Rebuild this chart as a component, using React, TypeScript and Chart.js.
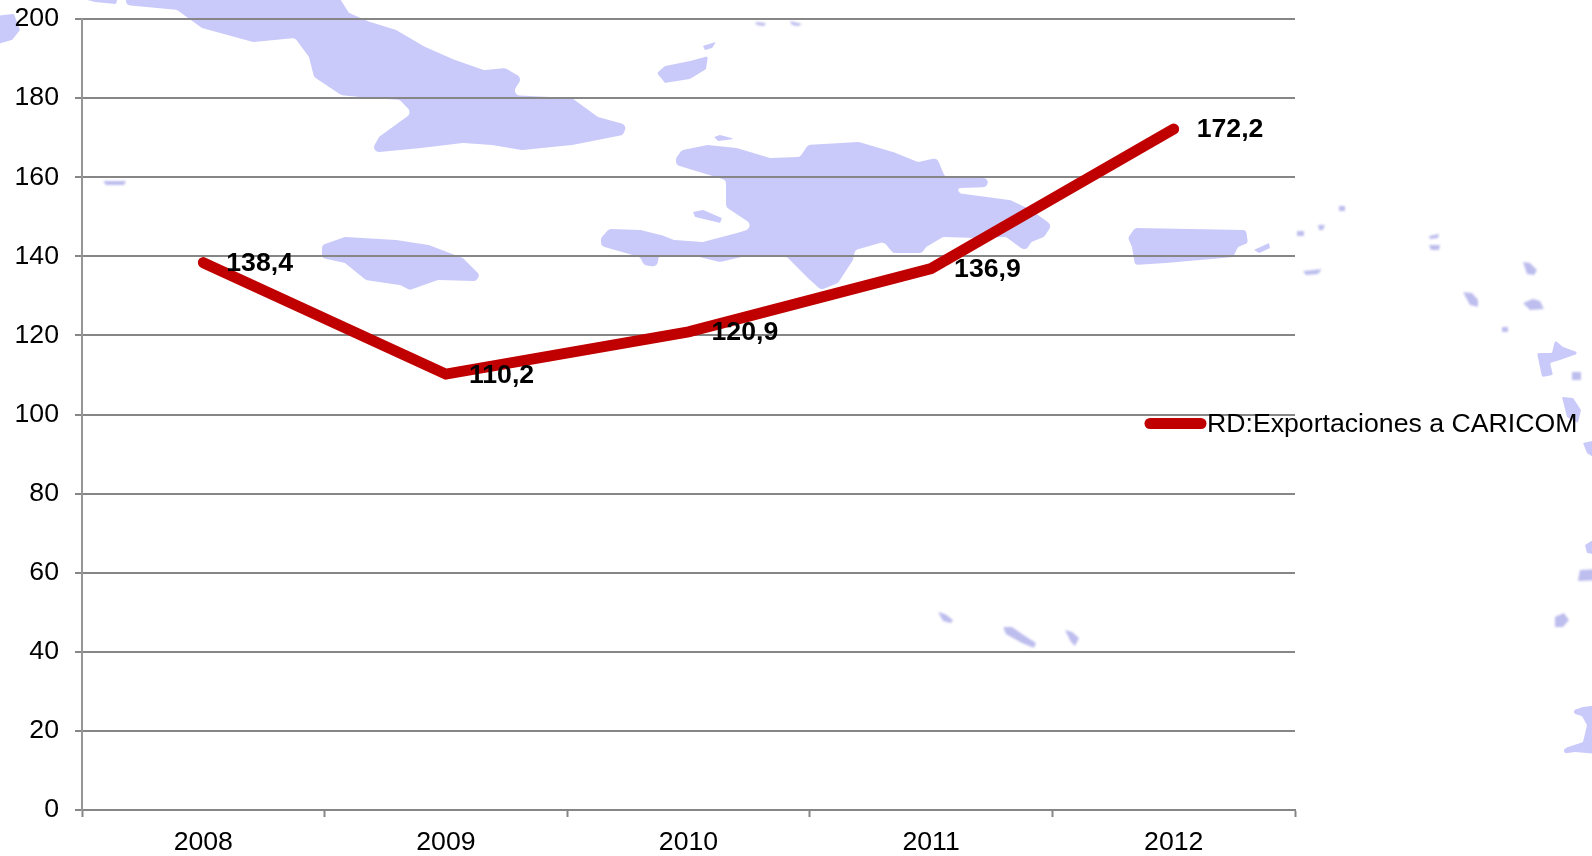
import React, { useEffect, useRef } from "react";
import { Chart, registerables } from "chart.js";

Chart.register(...registerables);

const years = ["2008", "2009", "2010", "2011", "2012"];
const exportValues = [138.4, 110.2, 120.9, 136.9, 172.2];
const seriesName = "RD:Exportaciones a CARICOM";
const yTicks = [0, 20, 40, 60, 80, 100, 120, 140, 160, 180, 200];

const RED = "#C00000";
const GRID = "#868686";
const AXIS = "#969696";
const FONT = "'Liberation Sans', Arial, sans-serif";
const TEXT_SIZE = 26.67;

// Background map of the Caribbean (decoration only, behind the chart)
const mapLand: number[][] = [
  [126,-6,337,-6,349,13,370,22,396,30,425,47,455,60,484,70,505,68,522,78,511,95,572,98,598,117,627,125,623,135,572,145,522,150,492,145,463,143,421,148,370,153,379,137,412,113,400,100,370,98,341,95,314,77,309,57,295,38,253,42,202,28,177,10,126,5],
  [76,-3,118,-3,116,4,95,2],
  [-6,16,14,14,20,30,12,40,-6,45],
  [322,245,345,237,396,240,429,245,463,258,480,275,476,281,438,280,410,290,400,285,366,280,345,263,322,258],
  [657,73,665,66,690,61,708,56,706,69,690,79,665,83],
  [703,46,716,42,712,48,705,50],
  [676,158,682,150,707,145,737,148,770,158,800,157,808,145,859,142,893,152,918,162,937,158,945,177,987,178,989,187,958,188,956,193,1010,200,1031,210,1052,225,1044,237,1029,243,1033,257,1021,248,1006,237,977,238,943,237,926,247,922,253,893,253,884,242,855,250,853,260,838,283,821,290,810,280,787,257,741,257,720,262,699,257,659,255,657,267,644,265,640,257,615,250,601,246,601,238,609,229,640,230,661,235,674,240,703,242,737,233,756,227,726,207,726,180,676,165],
  [693,212,703,210,722,218,720,223,695,217],
  [714,137,720,135,735,139,718,141],
  [1128,238,1135,228,1246,230,1248,243,1238,247,1233,257,1166,263,1135,265,1132,247],
  [1254,250,1269,243,1270,248,1259,253],
  [1555,340,1563,347,1580,353,1560,360,1550,363,1553,375,1542,377,1537,353,1552,353],
  [1562,397,1573,398,1581,410,1578,423,1567,417],
  [1583,443,1598,440,1598,460,1587,453],
  [1585,545,1598,537,1598,555,1587,553],
  [1553,755,1568,747,1583,742,1587,725,1582,716,1568,712,1583,707,1598,705,1598,754,1575,752],
];

const mapIslets: number[][] = [
  [103,181,126,181,124,185,106,185],
  [755,22,766,23,764,26,757,25],
  [790,21,802,24,798,26,792,25],
  [938,612,945,614,953,620,951,623,943,621],
  [1003,627,1012,627,1025,636,1036,643,1034,648,1022,643,1006,634],
  [1065,630,1072,632,1079,638,1075,646,1071,642],
  [1339,206,1345,206,1345,211,1339,211],
  [1318,225,1325,225,1323,230,1319,230],
  [1297,231,1304,231,1304,236,1297,236],
  [1303,271,1322,269,1318,274,1306,275],
  [1429,236,1439,234,1438,238,1430,239],
  [1429,245,1440,245,1439,250,1431,250],
  [1523,262,1530,263,1537,270,1534,275,1527,274],
  [1463,292,1472,293,1478,300,1478,307,1470,305],
  [1523,303,1533,299,1540,301,1544,309,1530,310],
  [1502,327,1508,327,1508,332,1502,332],
  [1572,372,1581,372,1581,380,1572,380],
  [1580,570,1598,569,1598,580,1578,581],
  [1555,617,1564,613,1569,620,1563,627,1555,627],
];

// Fill each outline with corners rounded in proportion to its size
function fillPolys(ctx: CanvasRenderingContext2D, polys: number[][]) {
  for (const p of polys) {
    const n = p.length / 2;
    const px = (i: number) => p[((i + n) % n) * 2];
    const py = (i: number) => p[((i + n) % n) * 2 + 1];
    let perimeter = 0;
    for (let i = 0; i < n; i++) perimeter += Math.hypot(px(i + 1) - px(i), py(i + 1) - py(i));
    const radius = Math.min(5, perimeter / 80);
    ctx.beginPath();
    ctx.moveTo((px(0) + px(n - 1)) / 2, (py(0) + py(n - 1)) / 2);
    for (let i = 0; i < n; i++) {
      ctx.arcTo(px(i), py(i), (px(i) + px(i + 1)) / 2, (py(i) + py(i + 1)) / 2, radius);
    }
    ctx.closePath();
    ctx.fill();
  }
}

const mapPlugin = {
  id: "caribbeanMap",
  beforeDraw(chart: any) {
    const { ctx } = chart;
    ctx.save();
    ctx.fillStyle = "#ffffff";
    ctx.fillRect(0, 0, chart.width, chart.height);
    ctx.filter = "blur(0.7px)";
    ctx.fillStyle = "#CACAFA";
    fillPolys(ctx, mapLand);
    ctx.filter = "blur(1px)";
    ctx.fillStyle = "#BDBDEE";
    fillPolys(ctx, mapIslets);
    ctx.restore();
  },
};

const dataLabelPlugin = {
  id: "pointValues",
  afterDatasetsDraw(chart: any) {
    const { ctx } = chart;
    const meta = chart.getDatasetMeta(0);
    ctx.save();
    ctx.font = `bold ${TEXT_SIZE}px ${FONT}`;
    ctx.fillStyle = "#000000";
    ctx.textAlign = "left";
    ctx.textBaseline = "middle";
    meta.data.forEach((pt: any, i: number) => {
      const text = exportValues[i].toFixed(1).replace(".", ",");
      ctx.fillText(text, pt.x + 23, pt.y + 1);
    });
    ctx.restore();
  },
};

const legendPlugin = {
  id: "overlayLegend",
  afterDraw(chart: any) {
    const { ctx } = chart;
    const ds = chart.data.datasets[0];
    ctx.save();
    ctx.strokeStyle = ds.borderColor;
    ctx.lineWidth = 11;
    ctx.lineCap = "round";
    ctx.beginPath();
    ctx.moveTo(1150, 423.5);
    ctx.lineTo(1201, 423.5);
    ctx.stroke();
    ctx.font = `${TEXT_SIZE}px ${FONT}`;
    ctx.fillStyle = "#000000";
    ctx.textAlign = "left";
    ctx.textBaseline = "middle";
    ctx.fillText(ds.label, 1207, 425);
    ctx.restore();
  },
};

export default function App() {
  const ref = useRef<HTMLCanvasElement>(null);

  useEffect(() => {
    if (!ref.current) return;
    const chart = new Chart(ref.current, {
      type: "line",
      data: {
        labels: years,
        datasets: [
          {
            label: seriesName,
            data: exportValues,
            borderColor: RED,
            backgroundColor: RED,
            borderWidth: 11,
            borderCapStyle: "round",
            borderJoinStyle: "miter",
            pointRadius: 0,
            tension: 0,
            fill: false,
          },
        ],
      },
      options: {
        responsive: false,
        animation: false,
        layout: { padding: { left: 0, top: 19, right: 297, bottom: 0 } },
        plugins: {
          legend: { display: false },
          tooltip: { enabled: false },
        },
        scales: {
          x: {
            type: "category",
            offset: true,
            afterFit(scale: any) {
              scale.height = 46;
              scale.paddingLeft = 0;
              scale.paddingRight = 0;
            },
            grid: {
              offset: true,
              drawOnChartArea: false,
              drawTicks: true,
              tickLength: 7,
              tickColor: GRID,
              tickWidth: 2,
            },
            border: { color: GRID, width: 2 },
            ticks: {
              color: "#000000",
              padding: 10,
              maxRotation: 0,
              font: { family: FONT, size: TEXT_SIZE },
            },
          },
          y: {
            min: 0,
            max: 200,
            afterFit(scale: any) {
              scale.width = 82;
              scale.paddingTop = 0;
              scale.paddingBottom = 0;
            },
            afterBuildTicks(scale: any) {
              scale.ticks = yTicks.map((value) => ({ value }));
            },
            grid: {
              color: GRID,
              lineWidth: 2,
              tickLength: 7,
              tickColor: GRID,
              tickWidth: 2,
            },
            border: { color: AXIS, width: 2 },
            ticks: {
              color: "#000000",
              padding: 16,
              font: { family: FONT, size: TEXT_SIZE },
            },
          },
        },
      } as any,
      plugins: [mapPlugin, dataLabelPlugin, legendPlugin],
    });
    return () => chart.destroy();
  }, []);

  return (
    <canvas
      ref={ref}
      width={1592}
      height={856}
      style={{ position: "fixed", left: 0, top: 0, width: 1592, height: 856, display: "block" }}
    />
  );
}
